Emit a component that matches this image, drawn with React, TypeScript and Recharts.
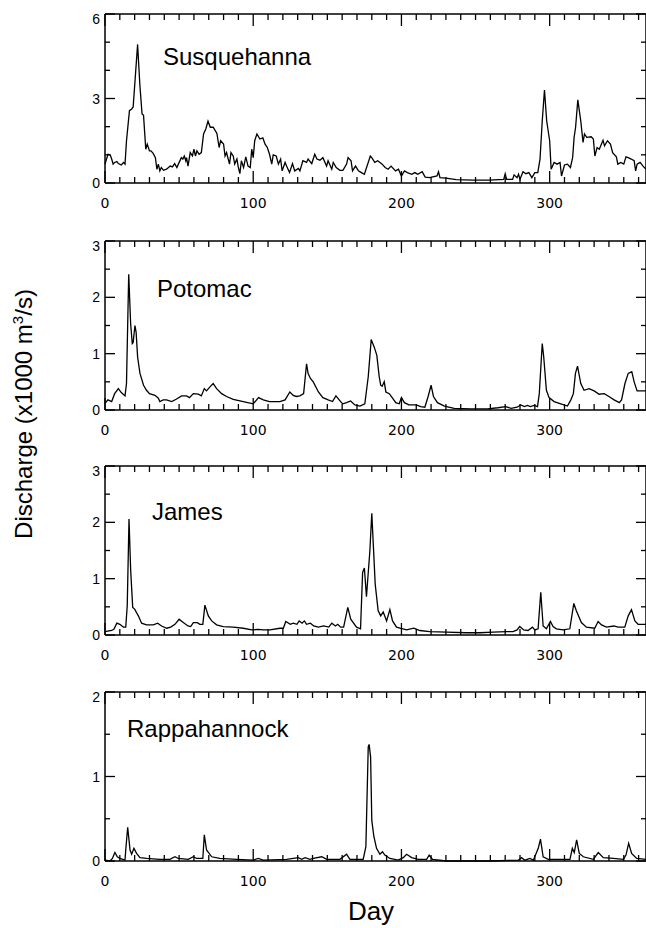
import React from "react";
import { LineChart, Line, XAxis, YAxis, ReferenceLine } from "recharts";

// daily discharge, x1000 m3/s
const susqDays = [
  0, 2, 3.5, 4.5, 5.5, 6.5, 8, 9, 11, 12.5, 13.5, 14.5, 16.5, 18, 19, 22, 23.5, 25, 26, 27.5, 28.5, 30, 31,
  32.5, 34, 35, 36, 37, 38, 39.5, 41.5, 44, 45.5, 47, 48.5, 49.5, 51.5, 52.5, 53.5, 54.5, 55, 56, 57.5, 59,
  60, 61, 62, 63.5, 65, 66.5, 68, 69.5, 71, 73, 75.5, 77, 78, 80, 81, 82, 84, 85, 86.5, 87.5, 89, 90, 91,
  92, 93.5, 95, 96.5, 98, 99, 100, 101, 102.5, 104.5, 106.5, 108, 109.5, 111, 112.5, 113.5, 115.5, 117, 118.5,
  119.5, 121.5, 122.5, 124.5, 126.5, 128, 130.5, 131.5, 133.5, 136, 137, 139.5, 141.5, 143, 145, 147, 149.5,
  150.5, 153, 154, 156, 158.5, 160.5, 163, 164, 166, 167, 169, 171, 173, 175, 179, 180, 182, 184, 187, 189,
  191, 193, 196, 198, 200, 202, 204, 207, 209, 211, 214, 216, 219, 224, 225, 226, 230, 237, 248, 259, 269,
  270, 271, 275, 276, 278, 279, 280, 282, 284, 286, 288, 290, 292, 293.5, 295, 296.5, 298, 300, 301, 303,
  305, 307, 308, 310, 312, 314, 315.5, 316.5, 317.5, 319, 321, 322.5, 323.5, 325, 328, 329.5, 330.5, 332,
  333.5, 336, 337, 339, 341, 342.5, 345, 346, 348, 350, 351.5, 353, 355, 357, 358, 359, 361, 363, 365,
];
const susqFlow = [
  0.67, 1.02, 1.0, 0.85, 0.67, 0.73, 0.76, 0.69, 0.64, 0.73, 0.67, 1.5, 2.57, 2.63, 2.7, 4.92, 3.5, 2.45, 2.4,
  1.2, 1.38, 1.14, 1.14, 1.05, 0.9, 0.49, 0.67, 0.43, 0.55, 0.45, 0.49, 0.6, 0.57, 0.69, 0.55, 0.67, 0.9, 0.85,
  0.96, 0.79, 0.9, 0.6, 1.08, 0.96, 1.2, 0.96, 1.14, 1.02, 1.08, 1.74, 1.92, 2.2, 1.98, 1.98, 1.76, 1.26, 1.5,
  1.38, 0.96, 1.08, 0.67, 1.08, 0.96, 0.67, 0.85, 0.55, 0.33, 0.79, 0.55, 0.93, 0.6, 0.55, 1.2, 0.9, 1.5, 1.74,
  1.56, 1.6, 1.38, 1.26, 1.02, 0.67, 1.0, 0.96, 0.67, 0.85, 0.43, 0.73, 0.6, 0.37, 0.69, 0.43, 0.52, 0.43,
  0.79, 0.73, 0.85, 0.69, 1.02, 0.85, 0.81, 0.9, 0.6, 0.79, 0.49, 0.73, 0.55, 0.45, 0.45, 0.67, 0.9, 0.79,
  0.43, 0.6, 0.43, 0.37, 0.31, 0.96, 0.9, 0.73, 0.79, 0.67, 0.55, 0.49, 0.6, 0.43, 0.49, 0.25, 0.43, 0.37,
  0.31, 0.37, 0.31, 0.4, 0.21, 0.19, 0.25, 0.4, 0.19, 0.17, 0.12, 0.1, 0.1, 0.13, 0.33, 0.13, 0.13, 0.29,
  0.19, 0.31, 0.13, 0.4, 0.33, 0.37, 0.19, 0.37, 0.37, 0.85, 2.2, 3.3, 2.2, 1.5, 0.49, 0.73, 0.67, 0.73,
  0.25, 0.64, 0.67, 0.55, 0.9, 1.62, 1.98, 2.95, 2.2, 1.44, 1.74, 1.62, 1.64, 1.56, 0.96, 1.26, 1.2, 1.52,
  1.32, 1.5, 1.38, 1.08, 0.93, 0.67, 0.73, 0.67, 0.93, 0.9, 0.85, 0.79, 0.43, 0.67, 0.73, 0.6, 0.49,
];

const potoDays = [
  0, 2, 4.5, 6.5, 9, 11, 13.5, 14.5, 16, 17.3, 18.4, 19, 20.2, 21, 22, 23.6, 26, 28, 30, 33.7, 36, 37, 39.3,
  41.5, 45, 48, 51.7, 55, 57, 59.6, 63, 65, 67, 68.5, 70.8, 73, 75.3, 78.7, 82, 86.5, 93.3, 100, 103.6, 106.8,
  111, 118, 121.5, 124.7, 127, 129, 131.5, 134, 136, 137, 138.6, 140.5, 144, 147, 150.6, 153.5, 155.8, 158,
  160.3, 163, 165.7, 168.6, 172, 175.3, 177.6, 179.6, 181.6, 183.4, 185, 186, 187, 188.4, 189.5, 191.8, 194,
  196.2, 198.5, 200, 202, 205, 210, 213, 215.8, 218, 220, 221.6, 224.3, 229, 235.6, 247, 258, 265, 270.4,
  274, 278, 280.5, 283, 285, 287, 289.5, 291.8, 293, 295, 296, 297.8, 299.6, 303, 307.5, 312, 314.3, 316,
  317.4, 318.8, 321, 323.2, 326.6, 330, 333.4, 336.8, 340, 343.5, 347, 348.5, 350.8, 353, 355.4, 357, 359,
  365,
];
const potoFlow = [
  0.12, 0.18, 0.15, 0.29, 0.38, 0.31, 0.25, 0.47, 2.41, 1.53, 1.18, 1.2, 1.5, 1.38, 0.94, 0.65, 0.44, 0.35,
  0.29, 0.26, 0.21, 0.15, 0.18, 0.18, 0.15, 0.19, 0.25, 0.25, 0.22, 0.29, 0.28, 0.25, 0.38, 0.34, 0.41, 0.47,
  0.38, 0.29, 0.24, 0.19, 0.15, 0.11, 0.22, 0.18, 0.15, 0.15, 0.18, 0.32, 0.26, 0.24, 0.25, 0.29, 0.82, 0.65,
  0.56, 0.5, 0.32, 0.22, 0.18, 0.15, 0.25, 0.18, 0.11, 0.13, 0.16, 0.09, 0.07, 0.11, 0.59, 1.25, 1.12, 0.97,
  0.59, 0.44, 0.42, 0.5, 0.32, 0.29, 0.21, 0.13, 0.11, 0.22, 0.13, 0.09, 0.09, 0.06, 0.05, 0.24, 0.44, 0.24,
  0.13, 0.07, 0.03, 0.02, 0.02, 0.04, 0.06, 0.03, 0.05, 0.09, 0.06, 0.08, 0.06, 0.08, 0.06, 0.29, 1.18, 0.94,
  0.35, 0.22, 0.15, 0.11, 0.07, 0.18, 0.29, 0.65, 0.78, 0.47, 0.35, 0.38, 0.34, 0.28, 0.29, 0.24, 0.18, 0.13,
  0.18, 0.47, 0.65, 0.68, 0.5, 0.34, 0.34,
];

const jamesDays = [
  0, 4.5, 6, 8, 10, 12.4, 14, 15, 16.2, 17.3, 18.7, 20, 22.5, 24.7, 28, 32.6, 35.5, 38.2, 41.6, 44.3, 47.2,
  50, 52.8, 56, 57.8, 59.6, 62.3, 64, 66, 67.4, 69.7, 72, 75.3, 79.8, 86.5, 93.3, 99, 103.4, 106.8, 111.3, 118,
  120.3, 122, 125, 127, 129.5, 131, 133, 134.5, 136, 138.6, 140.8, 144, 147.5, 151, 153, 155.5, 157, 159, 161,
  163.8, 165.8, 169.7, 172.4, 173.8, 175, 176.4, 178.7, 180, 181.4, 182.3, 184.3, 186, 187.7, 190, 192.2, 194,
  196.7, 199, 203.5, 208.4, 212.4, 219, 230.4, 243.9, 252.8, 261.8, 270.8, 275.3, 278, 279.8, 282.5, 285.4,
  288.4, 290, 292.2, 294, 295.6, 297.8, 300.5, 302.3, 304.5, 309, 313.6, 316.3, 318, 321.4, 324.8, 330.4,
  332.7, 335, 338.3, 343.3, 346.2, 350.7, 353, 355.2, 357.5, 359.7, 365,
];
const jamesFlow = [
  0.06, 0.08, 0.1, 0.21, 0.19, 0.14, 0.14, 0.52, 2.06, 1.16, 0.49, 0.46, 0.34, 0.21, 0.18, 0.18, 0.21, 0.16,
  0.12, 0.14, 0.19, 0.28, 0.22, 0.16, 0.15, 0.22, 0.22, 0.19, 0.19, 0.53, 0.34, 0.25, 0.18, 0.15, 0.14, 0.12,
  0.09, 0.1, 0.09, 0.09, 0.12, 0.12, 0.24, 0.19, 0.21, 0.19, 0.25, 0.21, 0.25, 0.19, 0.21, 0.16, 0.14, 0.16,
  0.14, 0.21, 0.16, 0.19, 0.14, 0.14, 0.49, 0.28, 0.14, 0.11, 1.11, 1.19, 0.68, 1.49, 2.16, 1.4, 0.9, 0.43,
  0.34, 0.41, 0.25, 0.45, 0.25, 0.14, 0.12, 0.09, 0.12, 0.08, 0.06, 0.05, 0.04, 0.04, 0.05, 0.06, 0.06, 0.09,
  0.15, 0.09, 0.08, 0.14, 0.09, 0.11, 0.76, 0.16, 0.11, 0.24, 0.15, 0.11, 0.09, 0.11, 0.56, 0.43, 0.22, 0.14,
  0.12, 0.24, 0.18, 0.14, 0.16, 0.14, 0.14, 0.34, 0.45, 0.25, 0.19, 0.19,
];

const rappDays = [
  0, 3.4, 5, 6.7, 8.3, 10, 13.5, 14, 15.3, 16.9, 18, 19.5, 21.3, 23.6, 28, 37, 43.8, 47.2, 49.4, 56.2, 59.6,
  61.8, 66, 67, 68.5, 72, 77.5, 88.8, 100, 103.4, 106.8, 122.5, 130.4, 132.7, 135, 138.3, 140.6, 146.2, 149.6,
  154, 158.5, 163, 165.2, 174.2, 176, 177.6, 178.2, 179.2, 180, 181.4, 183.2, 185.5, 187.2, 188.8, 192.2,
  197.8, 201.2, 203.5, 206.9, 211.4, 217, 218.7, 221, 230.4, 259.7, 278.8, 281, 283.3, 286.6, 289, 292.3,
  293.8, 295.6, 299, 306.9, 313.7, 315.3, 316.6, 318.2, 320, 322.7, 329.5, 332.8, 336.2, 343, 349.7, 351.5,
  353.3, 355.3, 358.7, 365,
];
const rappFlow = [
  0.01, 0, 0.03, 0.1, 0.05, 0.03, 0.01, 0.13, 0.4, 0.13, 0.08, 0.15, 0.09, 0.04, 0.03, 0.02, 0.02, 0.05, 0.03,
  0.02, 0.05, 0.03, 0.03, 0.31, 0.13, 0.05, 0.03, 0.02, 0.01, 0.03, 0.01, 0.02, 0.04, 0.02, 0.04, 0.02, 0.03,
  0.05, 0.02, 0.02, 0.02, 0.08, 0.02, 0.02, 0.17, 1.35, 1.38, 1.23, 0.48, 0.29, 0.15, 0.08, 0.11, 0.07, 0.03,
  0.01, 0.04, 0.08, 0.04, 0.02, 0.02, 0.07, 0.02, 0, 0, 0.01, 0.04, 0.01, 0.03, 0.01, 0.15, 0.26, 0.05, 0.02,
  0.02, 0.02, 0.15, 0.1, 0.25, 0.09, 0.05, 0.02, 0.1, 0.04, 0.03, 0.02, 0.07, 0.21, 0.09, 0.03, 0.02,
];

const dayTicks = [0, 10, 20, 30, 40, 50, 60, 70, 80, 90, 100, 110, 120, 130, 140, 150, 160, 170, 180, 190,
  200, 210, 220, 230, 240, 250, 260, 270, 280, 290, 300, 310, 320, 330, 340, 350, 360];

const ticks6 = [0, 1, 2, 3, 4, 5, 6];
const ticks3 = [0, 0.5, 1, 1.5, 2, 2.5, 3];
const ticks2 = [0, 0.5, 1, 1.5, 2];

const PLOT_W = 541;
const PLOT_H = 169;
const X_MAX = 365;
const FONT = "Liberation Sans, Arial, sans-serif";

const panels = [
  { name: "Susquehanna", days: susqDays, flow: susqFlow, yMax: 6, yTicks: ticks6, yLabels: [0, 3, 6], top: 14, nameX: 163, nameY: 65 },
  { name: "Potomac", days: potoDays, flow: potoFlow, yMax: 3, yTicks: ticks3, yLabels: [0, 1, 2, 3], top: 241, nameX: 157, nameY: 297 },
  { name: "James", days: jamesDays, flow: jamesFlow, yMax: 3, yTicks: ticks3, yLabels: [0, 1, 2, 3], top: 466, nameX: 152, nameY: 520 },
  { name: "Rappahannock", days: rappDays, flow: rappFlow, yMax: 2, yTicks: ticks2, yLabels: [0, 1, 2], top: 692, nameX: 127, nameY: 737 },
];

function Panel({ p }: { p: (typeof panels)[number] }) {
  const data = p.days.map((d, i) => ({ day: d, q: p.flow[i] }));

  const xTick = (props: any) => {
    const { x, y, payload } = props;
    const major = payload.value % 100 === 0;
    return (
      <text x={x} y={y + 25} textAnchor="middle" fontSize={14} fontFamily="DejaVu Sans" fill="#000">
        {major ? payload.value : ""}
      </text>
    );
  };

  const yTick = (props: any) => {
    const { x, y, payload } = props;
    const major = p.yLabels.includes(payload.value);
    const dy = payload.value === p.yMax ? 5 : 0;
    return (
      <text x={x - 5} y={y + 5 + dy} textAnchor="end" fontSize={14} fontFamily={FONT} fill="#000">
        {major ? payload.value : ""}
      </text>
    );
  };

  // inward tick marks on all four sides, as short reference segments
  const tickStyle = { stroke: "#000", strokeWidth: 1.3, ifOverflow: "visible" as const, xAxisId: "a", yAxisId: "a" };
  const xMarks = dayTicks.flatMap((d) => {
    const len = ((d % 100 === 0 ? 12 : 6) * p.yMax) / PLOT_H;
    return [
      <ReferenceLine key={"xb" + d} {...tickStyle} segment={[{ x: d, y: 0 }, { x: d, y: len }]} />,
      <ReferenceLine key={"xt" + d} {...tickStyle} segment={[{ x: d, y: p.yMax }, { x: d, y: p.yMax - len }]} />,
    ];
  });
  const yMarks = p.yTicks.flatMap((v) => {
    const len = ((p.yLabels.includes(v) ? 10 : 5) * X_MAX) / PLOT_W;
    return [
      <ReferenceLine key={"yl" + v} {...tickStyle} segment={[{ x: 0, y: v }, { x: len, y: v }]} />,
      <ReferenceLine key={"yr" + v} {...tickStyle} segment={[{ x: X_MAX, y: v }, { x: X_MAX - len, y: v }]} />,
    ];
  });

  return (
    <div style={{ position: "absolute", left: 0, top: p.top - 10 }}>
      <LineChart width={646} height={209} data={data} margin={{ top: 10, right: 0, bottom: 0, left: 0 }}>
        <XAxis
          xAxisId="a"
          dataKey="day"
          type="number"
          domain={[0, X_MAX]}
          ticks={dayTicks}
          interval={0}
          height={30}
          tickSize={0}
          tickMargin={0}
          tickLine={false}
          tick={xTick}
          axisLine={{ stroke: "#000", strokeWidth: 1.5 }}
        />
        <YAxis
          yAxisId="a"
          type="number"
          domain={[0, p.yMax]}
          ticks={p.yTicks}
          interval={0}
          width={105}
          tickSize={0}
          tickMargin={0}
          tickLine={false}
          tick={yTick}
          axisLine={{ stroke: "#000", strokeWidth: 1.5 }}
        />
        <ReferenceLine xAxisId="a" yAxisId="a" y={p.yMax} stroke="#000" strokeWidth={1.5} />
        <ReferenceLine xAxisId="a" yAxisId="a" x={X_MAX} stroke="#000" strokeWidth={1.5} />
        {xMarks}
        {yMarks}
        <Line
          xAxisId="a"
          yAxisId="a"
          type="linear"
          dataKey="q"
          stroke="#000"
          strokeWidth={1.3}
          dot={false}
          isAnimationActive={false}
        />
      </LineChart>
    </div>
  );
}

export default function App() {
  return (
    <div style={{ position: "absolute", left: 0, top: 0, width: 646, height: 928 }}>
      {panels.map((p) => (
        <Panel key={p.name} p={p} />
      ))}
      {panels.map((p) => (
        <div
          key={"n" + p.name}
          style={{
            position: "absolute",
            left: p.nameX,
            top: p.nameY - 20,
            fontSize: 24,
            lineHeight: "24px",
            fontFamily: FONT,
            whiteSpace: "nowrap",
          }}
        >
          {p.name}
        </div>
      ))}
      <div
        style={{
          position: "absolute",
          left: 321,
          top: 898,
          width: 100,
          textAlign: "center",
          fontSize: 26,
          lineHeight: "26px",
          fontFamily: FONT,
        }}
      >
        Day
      </div>
      <div
        style={{
          position: "absolute",
          left: 24 - 160,
          top: 414 - 12,
          width: 320,
          textAlign: "center",
          fontSize: 24,
          lineHeight: "24px",
          fontFamily: FONT,
          whiteSpace: "nowrap",
          transform: "rotate(-90deg)",
        }}
      >
        Discharge (x1000 m<span style={{ fontSize: 15, verticalAlign: "9px", lineHeight: 0 }}>3</span>/s)
      </div>
    </div>
  );
}
